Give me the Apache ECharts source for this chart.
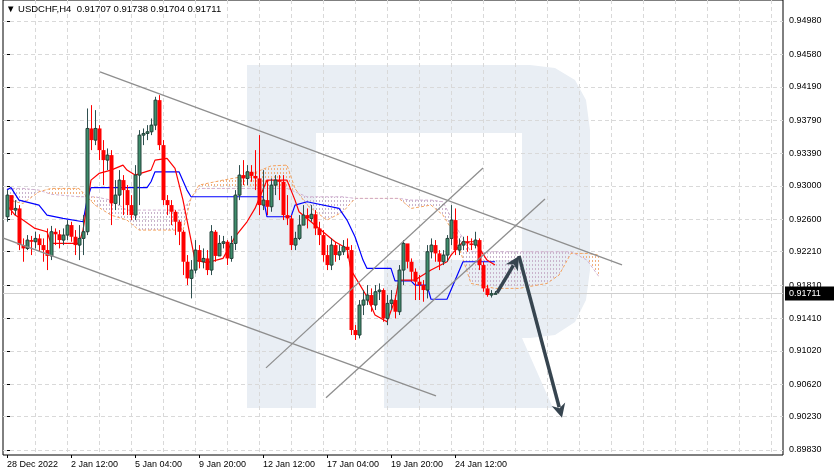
<!DOCTYPE html>
<html><head><meta charset="utf-8">
<script src="https://cdn.jsdelivr.net/npm/echarts@6/dist/echarts.min.js"></script>
<style>html,body{margin:0;padding:0;background:#fff}#c{width:838px;height:474px}</style>
</head><body><div id="c"></div>
<script>
const title = '▼ USDCHF,H4  0.91707 0.91738 0.91704 0.91711';
const dateLabels = ['28 Dec 2022','2 Jan 12:00','5 Jan 04:00','9 Jan 20:00','12 Jan 12:00','17 Jan 04:00','19 Jan 20:00','24 Jan 12:00'];
const dateLabelIdx = [0,16,32,48,64,80,96,112];
const priceTicks = ['0.94980','0.94580','0.94190','0.93790','0.93390','0.93000','0.92600','0.92210','0.91810','0.91410','0.91020','0.90620','0.90230','0.89830'];
const lastPrice = 0.91711;
const firstOpen = 0.9263;
const closes = [.9289,.9271,.9273,.9229,.9225,.9235,.9233,.9237,.9229,.9223,
.9216,.9245,.9242,.9235,.9241,.9253,.9239,.9229,.9237,.9245,
.9369,.9355,.9369,.9343,.9331,.9337,.9279,.9289,.9307,.9295,
.9277,.9265,.9313,.9361,.9363,.9365,.9373,.9403,.9349,.9283,
.9277,.9269,.9257,.9245,.9209,.9189,.9199,.9223,.9209,.9213,
.9199,.9245,.9216,.9231,.9233,.9213,.9231,.9289,.9313,.9309,
.9317,.9312,.9309,.9277,.9283,.9275,.9301,.9307,.9305,.9265,
.9261,.9229,.9237,.9253,.9265,.9261,.9266,.9249,.9241,.9217,
.9205,.9229,.9217,.9221,.9227,.9223,.9127,.9121,.9157,.9163,
.9169,.9157,.9173,.9175,.9141,.9159,.9163,.9149,.9199,.9231,
.9209,.9197,.9185,.9181,.9175,.9221,.9229,.9219,.9209,.9217,
.9237,.9259,.9223,.9229,.9233,.9231,.9229,.9235,.9205,.9177,
.9169,.91707,.91711];
const highs = [.9295,.9285,.9283,.9277,.9237,.9241,.9240,.9245,.9242,.9237,
.9249,.9252,.9249,.9247,.9249,.9259,.9257,.9247,.9253,.9265,
.9393,.9397,.9391,.9373,.9355,.9345,.9343,.9307,.9319,.9313,
.9301,.9289,.9325,.9367,.9369,.9373,.9381,.9407,.9409,.9355,
.9289,.9283,.9271,.9259,.9247,.9217,.9211,.9235,.9229,.9225,
.9223,.9253,.9247,.9241,.9240,.9235,.9240,.9295,.9325,.9331,
.9325,.9325,.9343,.9361,.9319,.9307,.9309,.9313,.9313,.9313,
.9289,.9265,.9245,.9265,.9277,.9273,.9277,.9271,.9257,.9247,
.9229,.9237,.9233,.9229,.9235,.9237,.9229,.9133,.9163,.9175,
.9181,.9177,.9181,.9183,.9177,.9169,.9175,.9169,.9205,.9235,
.9229,.9213,.9201,.9193,.9187,.9229,.9237,.9235,.9223,.9223,
.9241,.9277,.9273,.9237,.9239,.9240,.9237,.9245,.9237,.9209,
.9181,.9175,.91738];
const lows = [.9257,.9265,.9265,.9223,.9209,.9223,.9217,.9225,.9221,.9209,
.9199,.9211,.9229,.9225,.9229,.9235,.9233,.9217,.9211,.9217,
.9241,.9343,.9349,.9331,.9301,.9319,.9253,.9271,.9277,.9265,
.9265,.9259,.9259,.9277,.9349,.9355,.9361,.9367,.9343,.9277,
.9265,.9253,.9241,.9229,.9193,.9181,.9165,.9195,.9201,.9201,
.9193,.9193,.9209,.9217,.9225,.9205,.9209,.9223,.9283,.9301,
.9301,.9305,.9295,.9265,.9271,.9265,.9269,.9289,.9283,.9259,
.9253,.9223,.9223,.9235,.9253,.9249,.9257,.9241,.9229,.9209,
.9199,.9199,.9209,.9211,.9217,.9213,.9121,.9115,.9117,.9145,
.9157,.9149,.9151,.9163,.9137,.9133,.9151,.9141,.9145,.9181,
.9201,.9185,.9163,.9163,.9161,.9165,.9213,.9209,.9199,.9205,
.9209,.9229,.9217,.9217,.9223,.9221,.9223,.9225,.9199,.9173,
.9167,.9166,.91704];
const tenkan = [[0,.9277],[2,.9265],[4,.9259],[7,.9249],[10,.9245],[11,.9231],[18,.9231],[19,.9247],[21,.9307],[23,.9315],[26,.9319],[29,.9325],[30,.9319],[32,.9313],[34,.9316],[36,.9319],[37,.9331],[40,.9333],[42,.9321],[44,.9283],[46,.9235],[47,.9211],[50,.9208],[54,.9213],[57,.9239],[60,.9257],[62,.9273],[65,.9307],[70,.9307],[72,.9283],[73,.9269],[78,.9249],[82,.9233],[85,.9225],[86,.9199],[88,.9183],[90,.9167],[92,.9145],[95,.9137],[97,.9163],[98,.9187],[102,.9187],[106,.9199],[110,.9209],[111,.9217],[114,.9233],[117,.9233],[120,.9211],[122,.9205]];
const kijun = [[0,.9295],[1,.9298],[3,.9283],[8,.9277],[10,.9265],[14,.9261],[19,.9257],[20,.9283],[21,.9298],[35,.9298],[36,.9305],[37,.9317],[43,.9317],[45,.9295],[46,.9287],[64,.9287],[65,.9263],[71,.9263],[72,.9277],[75,.9281],[83,.9273],[85,.9259],[87,.9239],[89,.9211],[90,.9201],[96,.9201],[97,.9186],[101,.9186],[102,.9181],[105,.9181],[106,.9164],[110,.9164],[114,.9209],[122,.9209]];
const cloudIdx = [0,4,8,11,18,22,26,30,33,44,46,48,54,60,66,70,72,75,80,84,87,98,101,106,109,112,116,122,128,135,138,141,145,148];
const spanA = [.9283,.9279,.9293,.9297,.9297,.9277,.9265,.9259,.9247,.9247,.9285,.9301,.9307,.9312,.9324,.9325,.9297,.9277,.9259,.9269,.9285,.9285,.9273,.9277,.9265,.9241,.9183,.9177,.9177,.9183,.9193,.9219,.9219,.9217];
const spanB = [.9297,.9297,.9295,.9290,.9287,.9287,.9283,.9271,.9271,.9271,.9285,.9297,.9297,.9297,.9297,.9297,.9293,.9287,.9287,.9287,.9285,.9285,.9283,.9283,.9281,.9253,.9221,.9221,.9221,.9221,.9221,.9221,.9211,.9191];
const drawings = [
 [23.25,.94368,153.75,.92052,0],
 [-1.75,.92388,107.25,.90480,0],
 [64.75,.90816,119,.93216,0],
 [79.75,.90456,134.5,.92844,0],
 [122.5,.91716,128,.92160,2],
 [128,.92160,138.75,.90216,2]
];

const opens = [firstOpen].concat(closes.slice(0,-1));
const candles = closes.map((c,i)=>[i,opens[i],c,lows[i],highs[i]]);

function hatch(color){
  const cv=document.createElement('canvas'); cv.width=3; cv.height=4;
  const g=cv.getContext('2d'); g.fillStyle=color; g.fillRect(1,0,1,2); return cv;
}
const hatchA = hatch('#f0b080'), hatchB = hatch('#c9b3cc');

const chart = echarts.init(document.getElementById('c'));
const FONT = 'Liberation Sans';
const XMIN=-1, XMAX=194;
const logoPts = [[247,65],[530,65],[555,68],[575,80],[586,100],[590,130],[590,270],[586,300],[575,322],[555,335],[530,338],[522,338],[553,408],[384,408],[384,260],[522,260],[522,133],[316,133],[316,408],[247,408]];
chart.setOption({
  animation:false,
  grid:{left:3,right:55,top:0,bottom:19,show:true,borderColor:'#000',borderWidth:1,backgroundColor:'transparent'},
  graphic:[
    {type:'polygon',z:-10,silent:true,shape:{points:logoPts},style:{fill:'#e9eef4'}},
    {type:'text',left:6,top:4,z:100,style:{text:title,fill:'#000',font:'9.5px '+FONT}}
  ],
  xAxis:[
    {type:'value',min:XMIN,max:XMAX,position:'bottom',
     axisLine:{show:false},splitLine:{show:false},
     axisTick:{show:true,customValues:dateLabelIdx,length:3,lineStyle:{color:'#000'}},
     axisLabel:{customValues:dateLabelIdx,color:'#000',fontFamily:FONT,fontSize:9,margin:5,align:'left',
       formatter:v=>dateLabels[dateLabelIdx.indexOf(Math.round(v))]||''}},
    {type:'value',min:XMIN,max:XMAX,show:true,position:'top',
     axisLine:{show:false},axisLabel:{show:false},
     axisTick:{show:false,customValues:[7,15,23,31,39,47,55,63,71,79,87,95,103,111,119,127,135,143,151,159,167,175,183,191]},
     splitLine:{show:true,lineStyle:{color:'#d9d9d9',type:[4,3],width:1}}}
  ],
  yAxis:{type:'value',position:'right',min:0.897700,max:0.952321,
    axisLine:{show:false},
    axisTick:{show:true,length:3,customValues:priceTicks.map(Number),lineStyle:{color:'#000'}},
    axisLabel:{customValues:priceTicks.map(Number),color:'#000',fontFamily:FONT,fontSize:9,margin:6,formatter:v=>v.toFixed(5)},
    splitLine:{show:true,lineStyle:{color:'#d9d9d9',type:[4,3],width:1}}},
  series:[
    {type:'custom',z:1,data:[0],renderItem:(p,api)=>{
      const kids=[];
      for(let k=0;k<cloudIdx.length-1;k++){
        const a0=api.coord([cloudIdx[k],spanA[k]]),a1=api.coord([cloudIdx[k+1],spanA[k+1]]);
        const b0=api.coord([cloudIdx[k],spanB[k]]),b1=api.coord([cloudIdx[k+1],spanB[k+1]]);
        const up=(spanA[k]+spanA[k+1])>=(spanB[k]+spanB[k+1]);
        kids.push({type:'polygon',shape:{points:[a0,a1,b1,b0]},style:{fill:{image:up?hatchA:hatchB,repeat:'repeat'}}});
      }
      return {type:'group',children:kids};
    }},
    {type:'custom',z:1,data:[lastPrice],clip:false,renderItem:(p,api)=>{
      const a=api.coord([XMIN,api.value(0)]),b=api.coord([XMAX,api.value(0)]);
      const y=Math.round(a[1])+0.5;
      return {type:'group',children:[
        {type:'line',shape:{x1:a[0],y1:y,x2:b[0],y2:y},style:{stroke:'#cfcfcf',lineWidth:1}},
        {type:'rect',z2:10,shape:{x:b[0]+2,y:y-7,width:49,height:14},style:{fill:'#000'}},
        {type:'text',z2:11,style:{x:b[0]+6,y:y,text:lastPrice.toFixed(5),fill:'#fff',font:'9px '+FONT,verticalAlign:'middle'}}
      ]};
    }},
    {type:'line',z:2,data:cloudIdx.map((x,i)=>[x,spanA[i]]),symbol:'none',lineStyle:{color:'#f4a460',width:1,type:[3,2]}},
    {type:'line',z:2,data:cloudIdx.map((x,i)=>[x,spanB[i]]),symbol:'none',lineStyle:{color:'#d0b0d0',width:1,type:[3,2]}},
    {type:'line',z:3,data:kijun,symbol:'none',lineStyle:{color:'#0000ff',width:1.2}},
    {type:'line',z:3,data:tenkan,symbol:'none',lineStyle:{color:'#ff0000',width:1.2}},
    {type:'custom',z:5,data:candles,renderItem:(p,api)=>{
      const x=api.value(0),o=api.value(1),c=api.value(2),l=api.value(3),h=api.value(4);
      const po=api.coord([x,o]),pc=api.coord([x,c]),pl=api.coord([x,l]),ph=api.coord([x,h]);
      const up=c>=o, cx=Math.round(po[0])+0.5;
      const top=Math.min(po[1],pc[1]),ht=Math.max(1,Math.abs(po[1]-pc[1]));
      return {type:'group',children:[
        {type:'line',shape:{x1:cx,y1:ph[1],x2:cx,y2:pl[1]},style:{stroke:up?'#2f4f4f':'#ff0000',lineWidth:1}},
        up?{type:'rect',shape:{x:cx-1.5,y:top,width:3,height:ht},style:{fill:'#3e8e6c',stroke:'#24423a',lineWidth:1}}
          :{type:'rect',shape:{x:cx-2,y:top,width:4,height:ht},style:{fill:'#ff0000'}}
      ]};
    }},
    {type:'custom',z:8,data:drawings,clip:true,renderItem:(p,api)=>{
      const a=api.coord([api.value(0),api.value(1)]),b=api.coord([api.value(2),api.value(3)]),k=api.value(4);
      if(k===0) return {type:'line',shape:{x1:a[0],y1:a[1],x2:b[0],y2:b[1]},style:{stroke:'#8e8e8e',lineWidth:1.3}};
      const dx=b[0]-a[0],dy=b[1]-a[1],L=Math.hypot(dx,dy),ux=dx/L,uy=dy/L,hl=14,hw=7;
      const bx=b[0]-ux*hl,by=b[1]-uy*hl;
      return {type:'group',children:[
        {type:'line',shape:{x1:a[0],y1:a[1],x2:bx+ux*3,y2:by+uy*3},style:{stroke:'#36444f',lineWidth:3.5}},
        {type:'polygon',shape:{points:[[b[0],b[1]],[bx-uy*hw,by+ux*hw],[bx+ux*4,by+uy*4],[bx+uy*hw,by-ux*hw]]},style:{fill:'#36444f'}}
      ]};
    }}
  ]
});
</script></body></html>
